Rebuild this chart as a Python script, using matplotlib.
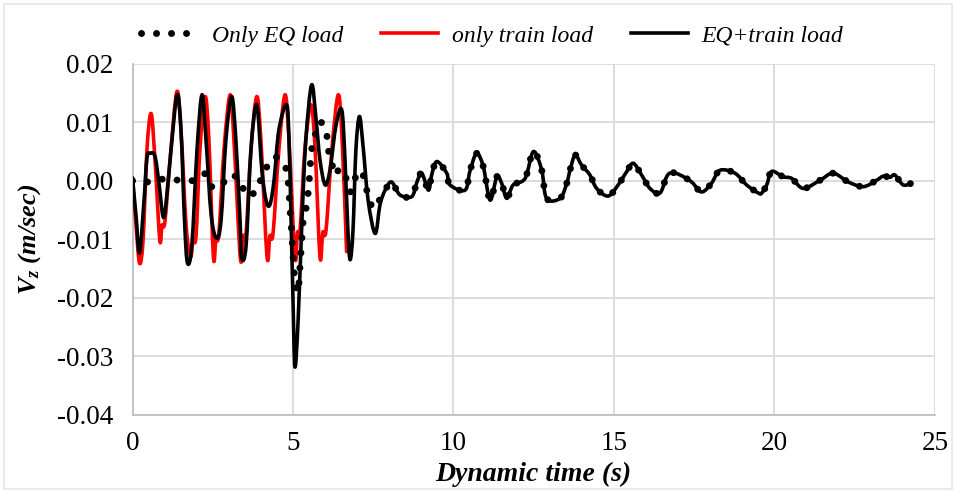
import matplotlib
matplotlib.use("Agg")
import matplotlib.pyplot as plt
from matplotlib.patches import Rectangle, PathPatch
from matplotlib.path import Path
from matplotlib.lines import Line2D

# ---------------- data (time s, Vz m/sec) ----------------
eq_train = [
    (0.00, 0.0005), (0.11, -0.0060), (0.22, -0.0123), (0.36, -0.0033), (0.45, 0.0039),
    (0.545, 0.0047), (0.70, 0.0042), (0.83, -0.0007), (0.95, -0.0061), (1.04, -0.0041),
    (1.20, 0.0053), (1.39, 0.0147), (1.51, 0.0087), (1.62, -0.0067), (1.71, -0.0140),
    (1.85, -0.0110), (2.01, 0.0053), (2.165, 0.0147), (2.29, 0.0070), (2.45, -0.0058),
    (2.62, -0.0098), (2.76, -0.0067), (2.91, 0.0070), (3.09, 0.0144), (3.22, 0.0070),
    (3.35, -0.0067), (3.40, -0.0132), (3.54, -0.0110), (3.69, 0.0053), (3.87, 0.0130),
    (4.03, 0.0018), (4.16, -0.0033), (4.28, -0.0041), (4.41, 0.0001), (4.56, 0.0087),
    (4.80, 0.0130), (4.875, 0.0070), (4.94, -0.0067), (5.00, -0.0204), (5.06, -0.0318),
    (5.16, -0.0238), (5.28, -0.0067), (5.40, 0.0070), (5.58, 0.0164), (5.72, 0.0104),
    (5.84, 0.0036), (6.00, -0.0007), (6.15, 0.0018), (6.34, 0.0095), (6.52, 0.0121),
    (6.62, 0.0036), (6.71, -0.0084), (6.78, -0.0135), (6.87, -0.0084), (6.96, 0.0053),
    (7.07, 0.0110), (7.18, 0.0061), (7.34, -0.0033), (7.56, -0.0090), (7.71, -0.0041),
    (7.87, -0.0016), (8.07, -0.0002), (8.33, -0.0024), (8.70, -0.0027), (8.85, -0.0004),
    (9.01, 0.0013), (9.22, -0.0016), (9.32, 0.0010), (9.48, 0.0033), (9.79, 0.0013),
    (9.89, -0.0007), (10.36, -0.0016), (10.51, 0.0016), (10.72, 0.0047), (10.93, 0.0024),
    (11.14, -0.0033), (11.35, 0.0007), (11.50, -0.0004), (11.66, -0.0030), (11.86, -0.0007),
    (12.23, 0.0004), (12.49, 0.0050), (12.75, 0.0018), (12.90, -0.0030), (13.32, -0.0030),
    (13.53, -0.0004), (13.63, 0.0018), (13.79, 0.0044), (13.99, 0.0027), (14.25, 0.0010),
    (14.46, -0.0013), (14.82, -0.0026), (15.13, -0.0007), (15.40, 0.0016), (15.60, 0.0030),
    (15.86, 0.0010), (16.12, -0.0013), (16.43, -0.0021), (16.64, 0.0007), (16.80, 0.0014),
    (17.06, 0.0010), (17.42, -0.0002), (17.73, -0.0019), (18.04, -0.0004), (18.30, 0.0018),
    (18.77, 0.0013), (19.13, -0.0007), (19.50, -0.0021), (19.60, -0.0021), (19.76, -0.0007),
    (19.91, 0.0016), (20.27, 0.0007), (20.54, 0.0004), (20.90, -0.0013), (21.42, 0.0001),
    (21.83, 0.0013), (22.30, -0.0002), (22.77, -0.0010), (23.18, 0.0001), (23.39, 0.0008),
    (23.60, 0.0006), (23.75, 0.0010), (24.01, -0.0007), (24.27, -0.0004),
]

eq_only_early = [
    (0.00, 0.0000), (0.49, -0.0002), (0.96, 0.0003), (1.48, 0.0001), (1.95, 0.0001),
    (2.26, 0.0012), (2.47, -0.0010), (2.73, -0.0010), (3.04, 0.0010), (3.35, 0.0000),
    (3.54, -0.0024), (3.82, -0.0019), (4.02, 0.0005), (4.23, 0.0028), (4.44, 0.0041),
    (4.70, 0.0030), (4.78, 0.0021), (4.85, -0.0002), (4.91, -0.0050), (4.96, -0.0089),
    (5.01, -0.0135), (5.06, -0.0170), (5.12, -0.0187), (5.17, -0.0187), (5.22, -0.0144),
    (5.27, -0.0106), (5.32, -0.0067), (5.43, -0.0041), (5.48, -0.0016), (5.53, 0.0018),
    (5.58, 0.0053), (5.69, 0.0078), (5.85, 0.0101), (6.05, 0.0078), (6.10, 0.0053),
    (6.21, 0.0030), (6.31, 0.0010), (6.46, 0.0021), (6.62, 0.0010), (6.78, -0.0019),
    (6.93, 0.0004), (7.14, 0.0016), (7.35, -0.0027), (7.50, -0.0047), (7.66, -0.0036),
    (7.87, -0.0016),
]
# after ~8 s the EQ-only response coincides with the combined response
eq_only = eq_only_early + [p for p in eq_train if p[0] >= 8.0]

train_only = [
    (0.00, 0.0005), (0.11, -0.0076), (0.22, -0.0141), (0.33, -0.0101), (0.45, 0.0053),
    (0.58, 0.0115), (0.70, 0.0036), (0.85, -0.0101), (0.92, -0.0076), (1.01, -0.0070),
    (1.17, 0.0036), (1.38, 0.0152), (1.51, 0.0087), (1.67, -0.0076), (1.81, -0.0130),
    (1.88, -0.0101), (1.98, -0.0094), (2.10, 0.0053), (2.26, 0.0144), (2.38, 0.0070),
    (2.52, -0.0130), (2.60, -0.0098), (2.69, -0.0091), (2.85, 0.0053), (3.04, 0.0147),
    (3.16, 0.0070), (3.36, -0.0132), (3.46, -0.0094), (3.54, -0.0089), (3.69, 0.0053),
    (3.87, 0.0144), (4.00, 0.0070), (4.19, -0.0129), (4.28, -0.0094), (4.38, -0.0089),
    (4.56, 0.0053), (4.75, 0.0147), (4.875, 0.0070), (5.06, -0.0130), (5.14, -0.0088),
    (5.22, -0.0084), (5.37, 0.0053), (5.56, 0.0130), (5.69, 0.0053), (5.84, -0.0130),
    (5.93, -0.0088), (6.03, -0.0084), (6.21, 0.0053), (6.41, 0.0147), (6.53, 0.0070),
    (6.67, -0.0121),
]

x_ticks = [0, 5, 10, 15, 20, 25]
y_ticks = [-0.04, -0.03, -0.02, -0.01, 0.00, 0.01, 0.02]
y_tick_labels = ["-0.04", "-0.03", "-0.02", "-0.01", "0.00", "0.01", "0.02"]
labels = ["Only EQ load", "only train load", "EQ+train load"]

# ---------------- style ----------------
plt.rcParams["font.family"] = ["Liberation Serif", "DejaVu Serif"]
plt.rcParams["mathtext.fontset"] = "custom"
plt.rcParams["mathtext.it"] = "Liberation Serif:italic:bold"
plt.rcParams["mathtext.rm"] = "Liberation Serif:bold"

fig = plt.figure(figsize=(9.56, 4.91), dpi=100)
ax = fig.add_axes([0.1386, 0.1552, 0.978 - 0.1386, 0.870 - 0.1552])

grid_c = "#d9d9d9"
LW = 2.6
DOT_LW = 5.0
DOT_STYLE = (0, (0.01, 2.15))


def smooth_path(pts):
    """Excel-style smoothed line: Catmull-Rom segments drawn as cubic Bezier curves
    through the data points (rendering only; the data points are unchanged)."""
    n = len(pts)
    verts = [pts[0]]
    codes = [Path.MOVETO]
    for i in range(n - 1):
        p0 = pts[i - 1] if i > 0 else pts[i]
        p1 = pts[i]
        p2 = pts[i + 1]
        p3 = pts[i + 2] if i + 2 < n else pts[i + 1]
        c1 = (p1[0] + (p2[0] - p0[0]) / 6.0, p1[1] + (p2[1] - p0[1]) / 6.0)
        c2 = (p2[0] - (p3[0] - p1[0]) / 6.0, p2[1] - (p3[1] - p1[1]) / 6.0)
        verts += [c1, c2, p2]
        codes += [Path.CURVE4, Path.CURVE4, Path.CURVE4]
    return Path(verts, codes)


def add_series(pts, **kw):
    patch = PathPatch(smooth_path(pts), fill=False, transform=ax.transData, **kw)
    ax.add_patch(patch)
    return patch


add_series(train_only, edgecolor="#ff0000", lw=LW, joinstyle="round", capstyle="round", zorder=3)
add_series(eq_train, edgecolor="black", lw=LW, joinstyle="round", capstyle="round", zorder=4)
add_series(eq_only, edgecolor="black", lw=DOT_LW, linestyle=DOT_STYLE,
           capstyle="round", zorder=5)

ax.set_xlim(0, 25)
ax.set_ylim(-0.04, 0.02)
ax.set_xticks(x_ticks)
ax.set_xticklabels([str(x) for x in x_ticks])
ax.set_yticks(y_ticks)
ax.set_yticklabels(y_tick_labels)
ax.tick_params(axis="both", length=0, labelsize=19.5)
ax.tick_params(axis="y", pad=14)
ax.tick_params(axis="x", pad=12)

ax.grid(True, color=grid_c, lw=1.3, zorder=0)
ax.set_axisbelow(True)
for s in ["top", "right"]:
    ax.spines[s].set_visible(False)
for s in ["left", "bottom"]:
    ax.spines[s].set_color("#bfbfbf")
    ax.spines[s].set_linewidth(1.3)

ax.set_xlabel("Dynamic time (s)", fontsize=20, fontweight="bold", style="italic")
ax.xaxis.set_label_coords(0.5, -0.135)
ax.set_ylabel(r"$V_z$ (m/sec)", fontsize=19, fontweight="bold", style="italic")
ax.yaxis.set_label_coords(-0.112, 0.5)

handles = [
    Line2D([], [], color="black", lw=DOT_LW, linestyle=DOT_STYLE, dash_capstyle="round"),
    Line2D([], [], color="#ff0000", lw=LW),
    Line2D([], [], color="black", lw=LW),
]
leg = fig.legend(handles, labels, loc="center",
                 bbox_to_anchor=(0.515, 0.927), ncol=3, frameon=False,
                 prop={"family": "Liberation Serif", "style": "italic", "size": 17},
                 handlelength=2.4, handletextpad=0.6, columnspacing=1.6)

fig.patches.append(Rectangle((0.004, 0.004), 0.992, 0.988, transform=fig.transFigure,
                             fill=False, edgecolor="#e6e6e6", lw=1.2))

fig.savefig("out.png", dpi=100)
